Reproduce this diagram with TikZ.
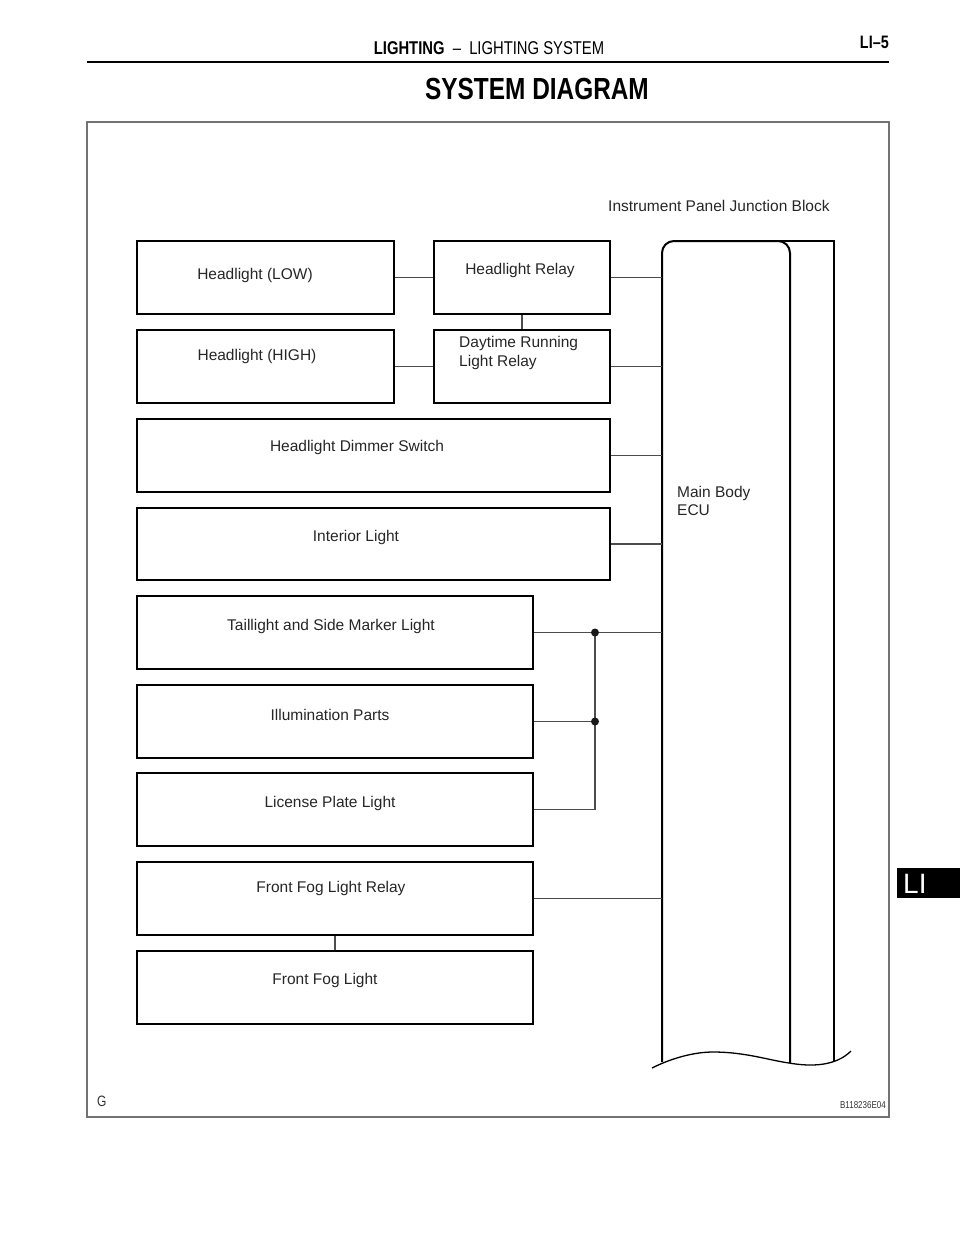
\documentclass[tikz,border=0pt]{standalone}
\usepackage{fontspec}
\setmainfont{Liberation Sans}
\newfontfamily\narrowfont[FakeStretch=0.8]{Liberation Sans}
\begin{document}
\begin{tikzpicture}[x=1pt,y=-1pt,
  box/.style={draw=black,line width=1.8pt,inner sep=0pt},
  txt/.style={font=\fontsize{15.5}{18}\selectfont,text=black!85,inner sep=0pt,anchor=base},
  txtl/.style={txt,anchor=base west},
  wire/.style={draw=black!70,line width=1.2pt},
  eculine/.style={draw=black,line width=2pt},
  dot/.style={fill=black!90}]
\useasboundingbox (0,0) rectangle (960,1242);
% header
\node[inner sep=0pt,anchor=base,font=\narrowfont\fontsize{18.5}{20}\selectfont] (hdr) at (489,54) {\textbf{LIGHTING}\ \ –\ \ LIGHTING SYSTEM};
\node[inner sep=0pt,anchor=base east,font=\narrowfont\bfseries\fontsize{18}{20}\selectfont] (pg) at (889,48) {LI–5};
\draw[line width=2.5pt] (87,62) -- (889,62);
\node[inner sep=0pt,anchor=base,font=\narrowfont\bfseries\fontsize{30.5}{34}\selectfont] (title) at (537,99) {SYSTEM DIAGRAM};
% frame
\draw[black!55,line width=1.2pt] (87,122) rectangle (889,1117);
% boxes
\node[box,minimum width=257,minimum height=73] (low) at (265.5,277.5) {};
\node[txt] at (255,279) {Headlight (LOW)};
\node[box,minimum width=176,minimum height=73] (hrelay) at (522,277.5) {};
\node[txt] at (520,274) {Headlight Relay};
\node[box,minimum width=257,minimum height=73] (high) at (265.5,366.5) {};
\node[txt] at (257,360) {Headlight (HIGH)};
\node[box,minimum width=176,minimum height=73] (drl) at (522,366.5) {};
\node[txtl] at (459,347) {Daytime Running};
\node[txtl] at (459,366) {Light Relay};
\node[box,minimum width=473,minimum height=73] (dimmer) at (373.5,455.5) {};
\node[txt] at (357,451) {Headlight Dimmer Switch};
\node[box,minimum width=473,minimum height=72] (interior) at (373.5,544) {};
\node[txt] at (356,541) {Interior Light};
\node[box,minimum width=396,minimum height=73] (tail) at (335,632.5) {};
\node[txt] at (331,630) {Taillight and Side Marker Light};
\node[box,minimum width=396,minimum height=73] (illum) at (335,721.5) {};
\node[txt] at (330,720) {Illumination Parts};
\node[box,minimum width=396,minimum height=73] (lic) at (335,809.5) {};
\node[txt] at (330,807) {License Plate Light};
\node[box,minimum width=396,minimum height=73] (fogr) at (335,898.5) {};
\node[txt] at (331,892) {Front Fog Light Relay};
\node[box,minimum width=396,minimum height=73] (fog) at (335,987.5) {};
\node[txt] at (325,984) {Front Fog Light};
% junction block / ECU
\coordinate (ecu) at (662,600);
\coordinate (bus) at (595,700);
\draw[eculine,rounded corners=12pt] (662,1062) -- (662,241) -- (790,241) -- (790,1063);
\draw[eculine] (778,241) -- (834,241) -- (834,1061);
\draw[black,line width=1.3pt] (652,1068) .. controls (676,1056) and (698,1052) .. (713,1052)
  .. controls (745,1052) and (768,1060) .. (789,1063)
  .. controls (812,1067) and (836,1066) .. (851,1051);
\node[txtl] (ipjb) at (608,211) {Instrument Panel Junction Block};
\node[txtl] (mb1) at (677,497) {Main Body};
\node[txtl] (mb2) at (677,515) {ECU};
% connectors
\draw[wire] (low.east) -- (hrelay.west);
\draw[wire] (high.east) -- (high.east -| drl.west);
\draw[wire] (hrelay.south) -- (drl.north);
\draw[wire] (hrelay.east) -- (hrelay.east -| ecu);
\draw[wire] (drl.east) -- (drl.east -| ecu);
\draw[wire] (dimmer.east) -- (dimmer.east -| ecu);
\draw[wire] (interior.east) -- (interior.east -| ecu);
\draw[wire] (tail.east) -- (tail.east -| ecu);
\draw[wire] (illum.east) -- (illum.east -| bus);
\draw[wire] (lic.east) -- (lic.east -| bus) -- (tail.east -| bus);
\fill[dot] (tail.east -| bus) circle (4);
\fill[dot] (illum.east -| bus) circle (4);
\draw[wire] (fogr.east) -- (fogr.east -| ecu);
\draw[wire] (fogr.south) -- (fog.north);
% footer
\node[inner sep=0pt,anchor=base west,font=\narrowfont\fontsize{15}{16}\selectfont,text=black!80] (g) at (97,1106) {G};
\node[inner sep=0pt,anchor=base east,font=\narrowfont\fontsize{10}{12}\selectfont,text=black!80] (code) at (886,1108) {B118236E04};
% tab
\fill[black] (897,868) rectangle (960,898);
\node[inner sep=0pt,anchor=base west,font=\fontsize{28}{30}\selectfont,text=white] (tab) at (903,893) {LI};
\end{tikzpicture}
\end{document}
